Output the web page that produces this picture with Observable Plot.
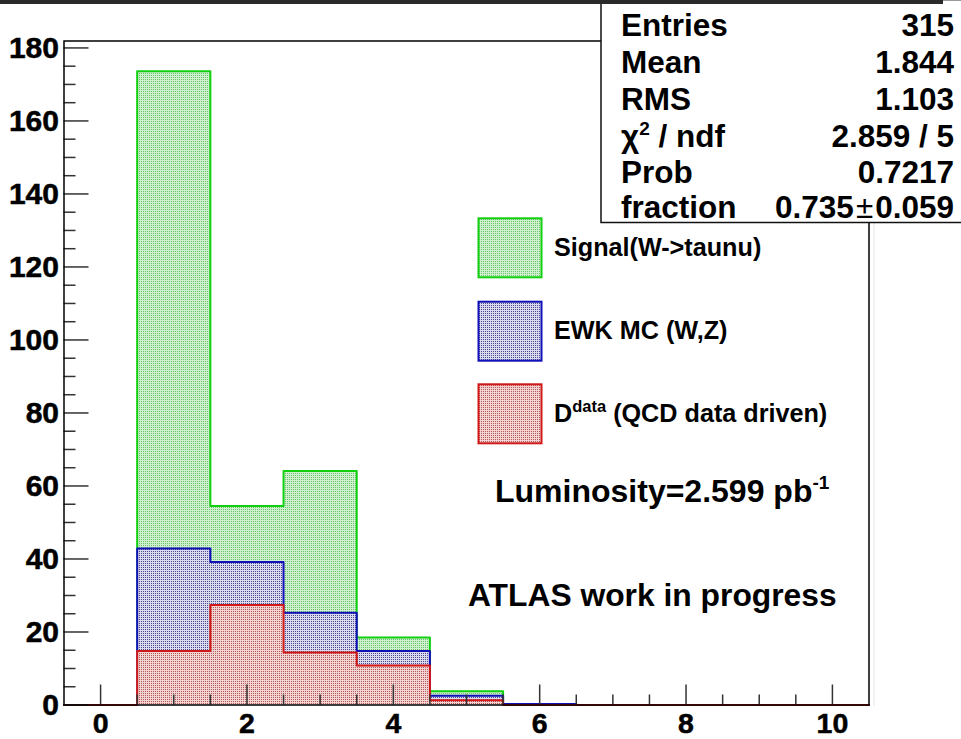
<!DOCTYPE html>
<html>
<head>
<meta charset="utf-8">
<script src="https://cdn.jsdelivr.net/npm/d3@7"></script>
<script src="https://cdn.jsdelivr.net/npm/@observablehq/plot@0.6"></script>
<style>
  html, body { margin: 0; padding: 0; background: #fff; }
  #chart svg { display: block; }
</style>
</head>
<body>
<div id="chart"></div>
<svg width="0" height="0" style="position:absolute">
  <defs>
    <!-- dotted fill styles for the stacked histograms -->
    <pattern id="fill-signal" patternUnits="userSpaceOnUse" width="2" height="2">
      <rect width="2" height="2" fill="#d0f0d0"></rect>
      <rect x="1" y="1" width="1" height="1" fill="#68c468"></rect>
    </pattern>
    <pattern id="fill-ewk" patternUnits="userSpaceOnUse" width="2" height="2">
      <rect width="2" height="2" fill="#dadaec"></rect>
      <rect x="1" y="1" width="1" height="1" fill="#4a4a94"></rect>
    </pattern>
    <pattern id="fill-qcd" patternUnits="userSpaceOnUse" width="2" height="2">
      <rect width="2" height="2" fill="#f0d4d4"></rect>
      <rect x="1" y="1" width="1" height="1" fill="#b85858"></rect>
    </pattern>
  </defs>
</svg>
<script>
// Bin centres (unit-width bins from -0.5 to 10.5)
const binCenters = [0, 1, 2, 3, 4, 5, 6, 7, 8, 9, 10];

// Per-component event counts in each bin
const qcdDataDriven = [0, 14.8, 27.4, 14.4, 10.8, 1.3, 0, 0, 0, 0, 0];
const ewkMC         = [0, 28.1, 11.8, 10.9, 4.0, 1.2, 0.3, 0, 0, 0, 0];
const signalWtaunu  = [0, 130.7, 15.3, 38.8, 3.7, 1.3, 0, 0, 0, 0, 0];

// Axis ticks
const xTickLabels = [0, 2, 4, 6, 8, 10];
const xMinorTicks = [0.5, 1, 1.5, 2.5, 3, 3.5, 4.5, 5, 5.5, 6.5, 7, 7.5, 8.5, 9, 9.5];
const yTickLabels = [0, 20, 40, 60, 80, 100, 120, 140, 160, 180];
const yMinorTicks = d3.range(0, 182, 5).filter(v => v % 20 !== 0);

// Fit statistics box
const statNames  = ["Entries", "Mean", "RMS", "chi2", "Prob", "fraction"];
const statValues = ["315", "1.844", "1.103", "2.859 / 5", "0.7217", "0.735\u00b10.059"];

const legendLabels = ["Signal(W->taunu)", "EWK MC (W,Z)", "data (QCD data driven)"];
const luminosityText = "Luminosity=2.599 pb";
const statusText = "ATLAS work in progress";

// Stack: QCD at the bottom, then EWK, then signal
const stackQCD = qcdDataDriven.slice();
const stackEWK = stackQCD.map((v, i) => v + ewkMC[i]);
const stackAll = stackEWK.map((v, i) => v + signalWtaunu[i]);

const bins = (stack) => binCenters.map((c, i) => ({x1: c - 0.5, x2: c + 0.5, y: stack[i]}));
const outline = (stack) => [
  ...binCenters.map((c, i) => ({x: c - 0.5, y: stack[i]})),
  {x: binCenters[binCenters.length - 1] + 0.5, y: stack[stack.length - 1]}
];

const layers = [
  {stack: stackAll, fill: "url(#fill-signal)", stroke: "#10d010"},
  {stack: stackEWK, fill: "url(#fill-ewk)", stroke: "#1010b8"},
  {stack: stackQCD, fill: "url(#fill-qcd)", stroke: "#d01818"}
];

const font = "'Liberation Sans', Arial, Helvetica, sans-serif";

const chart = Plot.plot({
  width: 961,
  height: 739,
  marginLeft: 63.5,
  marginRight: 92.5,
  marginTop: 40.5,
  marginBottom: 34.5,
  style: {fontFamily: font, fontWeight: "bold", background: "#fff", color: "#000"},
  x: {domain: [-0.5, 10.5]},
  y: {domain: [0, 181.9]},
  marks: [
    ...layers.flatMap(l => [
      Plot.rectY(bins(l.stack).filter(d => d.y > 0), {x1: "x1", x2: "x2", y1: 0, y2: "y", fill: l.fill}),
      Plot.line(outline(l.stack), {x: "x", y: "y", curve: "step-after", stroke: l.stroke, strokeWidth: 2})
    ]),
    // inward-pointing ticks
    Plot.axisY({ticks: yTickLabels, tickSize: -25, fill: "none", stroke: "#333", strokeWidth: 1.5, label: null}),
    Plot.axisY({ticks: yMinorTicks, tickSize: -12, fill: "none", stroke: "#333", strokeWidth: 1.5, label: null}),
    Plot.axisY({ticks: yTickLabels, tickSize: 0, tickPadding: 5, fontSize: 30, textStroke: "#000", textStrokeWidth: 0.5, label: null}),
    Plot.axisX({ticks: xTickLabels, tickSize: -20, fill: "none", stroke: "#333", strokeWidth: 1.5, label: null}),
    Plot.axisX({ticks: xMinorTicks, tickSize: -10, fill: "none", stroke: "#333", strokeWidth: 1.5, label: null}),
    Plot.axisX({ticks: xTickLabels, tickSize: 0, tickPadding: 8, fontSize: 28.5, textStroke: "#000", textStrokeWidth: 0.5, label: null}),
    Plot.frame({stroke: "#000", strokeWidth: 1.5})
  ]
});

document.getElementById("chart").appendChild(chart);

const svg = d3.select(chart);
const g = svg.append("g")
  .attr("font-family", font)
  .attr("font-weight", "bold")
  .attr("text-anchor", "start")
  .attr("fill", "#000");

// faint pad edge to the right of the frame
g.append("line").attr("x1", 874).attr("x2", 874).attr("y1", 222).attr("y2", 706)
  .attr("stroke", "#e4e4e4").attr("stroke-width", 1);

// statistics box
g.append("rect").attr("x", 601).attr("y", -4).attr("width", 400).attr("height", 226.5)
  .attr("fill", "#fff").attr("stroke", "#111").attr("stroke-width", 1.5);
g.append("rect").attr("x", 0).attr("y", 0).attr("width", 943).attr("height", 4).attr("fill", "#2a2a2a");
g.append("line").attr("x1", 943).attr("x2", 961).attr("y1", 0.5).attr("y2", 0.5).attr("stroke", "#999");

const rowBase = [36, 73, 110, 146.5, 183, 217.5];
statNames.forEach((name, i) => {
  const t = g.append("text").attr("x", 621).attr("y", rowBase[i]).attr("font-size", 31.5);
  if (name === "chi2") {
    t.append("tspan").text("\u03c7");
    t.append("tspan").attr("font-size", 19).attr("dy", -12).text("2");
    t.append("tspan").attr("dy", 12).text(" / ndf");
  } else {
    t.text(name);
  }
  const v = g.append("text").attr("x", 954).attr("y", rowBase[i]).attr("font-size", 31.5).attr("text-anchor", "end");
  const val = statValues[i];
  if (val.includes("\u00b1")) {
    const [a, b] = val.split("\u00b1");
    v.append("tspan").text(a);
    v.append("tspan").attr("font-weight", "normal").attr("dx", 2).text("\u00b1");
    v.append("tspan").attr("dx", 2).text(b);
  } else {
    v.text(val);
  }
});

// legend
const legendY = [218.3, 301.7, 384.3];
const legendFill = ["url(#fill-signal)", "url(#fill-ewk)", "url(#fill-qcd)"];
const legendStroke = ["#10d010", "#1010b8", "#d01818"];
legendLabels.forEach((label, i) => {
  g.append("rect").attr("x", 478.5).attr("y", legendY[i]).attr("width", 63).attr("height", 59)
    .attr("fill", legendFill[i]).attr("stroke", legendStroke[i]).attr("stroke-width", 2);
  const t = g.append("text").attr("x", 554).attr("y", legendY[i] + 37.5).attr("font-size", 25.2);
  if (i === 2) {
    t.append("tspan").text("D");
    t.append("tspan").attr("font-size", 16.5).attr("dy", -10).text("data");
    t.append("tspan").attr("dy", 10).text(" (QCD data driven)");
  } else {
    t.text(label);
  }
});

// annotations
const lum = g.append("text").attr("x", 495).attr("y", 501.5).attr("font-size", 32);
lum.append("tspan").text(luminosityText);
lum.append("tspan").attr("font-size", 19).attr("dy", -13).text("-1");

g.append("text").attr("x", 468).attr("y", 606).attr("font-size", 31.8).text(statusText);
</script>
</body>
</html>
